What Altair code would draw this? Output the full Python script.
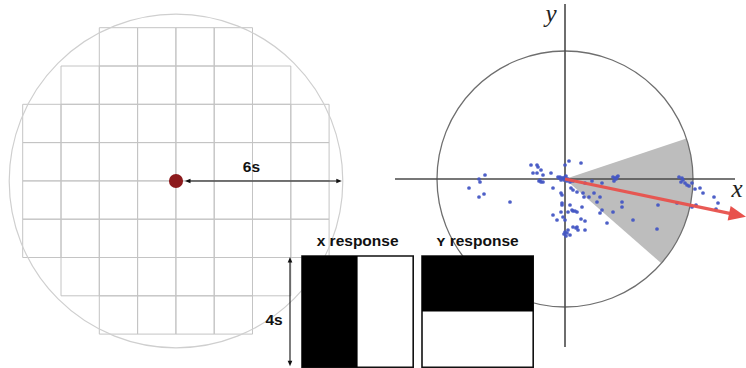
import math
import altair as alt
import pandas as pd

# ---------------- left panel: stimulus grid ----------------
S = 27.8                      # pixels per "s" unit
LEFT_C = (176.0, 181.0)       # centre of the stimulus field
FIELD_RADIUS_S = 6            # radius of the field, in s
CELL = 38.3                   # grid cell size (px)
GRID_ORIGIN = (22.7, 27.7)
# first / last column covered in each grid row
GRID_ROW_SPANS = [(2, 6), (1, 7), (0, 8), (0, 8), (0, 8), (0, 8), (1, 7), (2, 6)]

# ---------------- response maps ----------------
BOX_SIDE_S = 4
BOX_TOP = 256.0
BOX_LEFTS = [302.0, 422.0]
RESPONSE_LABELS = ["x response", "ʏ response"]
RESPONSE_SPLIT = ["vertical", "horizontal"]   # which half is black

# ---------------- right panel: response space ----------------
RIGHT_C = (565.0, 179.0)
RIGHT_R = 128.0
AXIS_HALF = 170.0
WEDGE_DEG = [18.4, -41.2]      # edges of the shaded sector
PREF_DIR_DEG = -11.8           # preferred direction
PREF_LEN = 185.0

# measured responses (x, y offsets from the origin, y up)
DOT_DX = [-34, -28, -27, -32, -28, -24, -22, -14, -26, -24, -22, -5, -2, 3, 4, 0,
          -80, -86, -85, -96, -81, -86, -55, -12, -4, -3, -3, 5, -4, -12, -8, -2,
          0, 3, 8, 12, 0, 2, 3, 5, 12, 13, 16, -7, -3, 0, 2, 5, 8, 48, 50, 52, 53,
          49, 20, 27, 37, 6, 8, 12, 18, 29, 19, 24, 35, -3, 32, 57, 7, 10, 17, 35,
          48, 57, 42, 16, 20, 68, 8, 11, 20, 92, 114, 117, 118, 120, 122, 124, 127,
          130, 135, 138, 149, 153, 151, 131, 127, 112, 93, 37,
          -6, -4, 1, 2, -1, -25, -1, 1, 51, 116]
DOT_DY = [14, 14, 12, 6, 6, 9, 4, 6, -2, -3, -3, 2, 1, 0, 18, 14,
          4, 0, -3, -9, -15, -18, -23, -9, -14, -24, -26, -26, -33, -36, -41, -38,
          -41, -33, -32, -33, -53, -54, -51, -56, -48, -51, 16, 2, 1, 2, 0, -3, -2, 2, 1, 2, 3,
          -2, -4, -2, -4, -9, -11, -13, -14, -14, -18, -18, -18, -16, -23, -23, -31, -32, -28, -34,
          -33, -28, -44, -40, -42, -41, -48, -49, -51, -50, 2, 1, -1, -4, -6, -7, -4,
          -10, -9, -14, -18, -24, -30, -26, -28, -24, -26, -31,
          1, -1, 3, -2, -1, -1, -55, -57, 0, -3]

W, H = 746, 368
xs = alt.Scale(domain=[0, W], nice=False, zero=False)
ys = alt.Scale(domain=[0, H], nice=False, zero=False, reverse=True)
X = lambda f: alt.X(f, scale=xs, axis=None)
Y = lambda f: alt.Y(f, scale=ys, axis=None)

# grid cells
cells = []
for r, (c0, c1) in enumerate(GRID_ROW_SPANS):
    for c in range(c0, c1):
        x0 = GRID_ORIGIN[0] + c * CELL
        y0 = GRID_ORIGIN[1] + r * CELL
        cells.append({"x": x0, "x2": x0 + CELL, "y": y0, "y2": y0 + CELL})
grid = alt.Chart(pd.DataFrame(cells)).mark_rect(
    filled=False, stroke="#c4c4c4", strokeWidth=1
).encode(x=X("x:Q"), x2="x2:Q", y=Y("y:Q"), y2="y2:Q")

# circles (symbol size = diameter squared)
r_left = FIELD_RADIUS_S * S
circles_df = pd.DataFrame([
    {"x": LEFT_C[0], "y": LEFT_C[1], "d2": (2 * r_left) ** 2, "c": "#cfcfcf", "w": 1.2},
    {"x": RIGHT_C[0], "y": RIGHT_C[1], "d2": (2 * RIGHT_R) ** 2, "c": "#6e6e6e", "w": 1.3},
])
circles = alt.Chart(circles_df).mark_point(shape="circle", filled=False, opacity=1).encode(
    x=X("x:Q"), y=Y("y:Q"),
    size=alt.Size("d2:Q", scale=None, legend=None),
    color=alt.Color("c:N", scale=None, legend=None),
    strokeWidth=alt.StrokeWidth("w:Q", scale=None, legend=None),
)

# shaded sector (vega angles run clockwise from 12 o'clock)
wedge_df = pd.DataFrame([{
    "x": RIGHT_C[0], "y": RIGHT_C[1],
    "t0": math.radians(90 - WEDGE_DEG[0]),
    "t1": math.radians(90 - WEDGE_DEG[1]),
    "r": RIGHT_R,
}])
wedge = alt.Chart(wedge_df).mark_arc(color="#bdbdbd", opacity=1).encode(
    x=X("x:Q"), y=Y("y:Q"),
    theta=alt.Theta("t0:Q", scale=None), theta2="t1:Q",
    radius=alt.Radius("r:Q", scale=None),
)

# coordinate axes
axes_df = pd.DataFrame([
    {"x": RIGHT_C[0] - AXIS_HALF, "x2": RIGHT_C[0] + AXIS_HALF, "y": RIGHT_C[1], "y2": RIGHT_C[1]},
    {"x": RIGHT_C[0], "x2": RIGHT_C[0], "y": RIGHT_C[1] - 175, "y2": RIGHT_C[1] + 168},
])
axes = alt.Chart(axes_df).mark_rule(color="#4a4a4a", strokeWidth=1.6).encode(
    x=X("x:Q"), x2="x2:Q", y=Y("y:Q"), y2="y2:Q"
)

# response dots
dots_df = pd.DataFrame({
    "x": [RIGHT_C[0] + dx for dx in DOT_DX],
    "y": [RIGHT_C[1] - dy for dy in DOT_DY],
})
dots = alt.Chart(dots_df).mark_circle(size=14, color="#4356c4", opacity=0.95).encode(
    x=X("x:Q"), y=Y("y:Q")
)

# preferred-direction arrow
a = math.radians(PREF_DIR_DEG)
tip = (RIGHT_C[0] + PREF_LEN * math.cos(a), RIGHT_C[1] - PREF_LEN * math.sin(a))
base = (RIGHT_C[0] + (PREF_LEN - 12) * math.cos(a), RIGHT_C[1] - (PREF_LEN - 12) * math.sin(a))
pref_line = alt.Chart(pd.DataFrame([{
    "x": RIGHT_C[0], "y": RIGHT_C[1], "x2": base[0], "y2": base[1]}])
).mark_rule(color="#e8514c", strokeWidth=3.2, opacity=0.95).encode(
    x=X("x:Q"), x2="x2:Q", y=Y("y:Q"), y2="y2:Q"
)

HEAD = "M0,0L-2,-0.85L-2,0.85Z"
heads_df = pd.DataFrame([
    {"x": tip[0], "y": tip[1], "ang": -PREF_DIR_DEG, "sz": 300, "c": "#e8514c"},
    {"x": LEFT_C[0] + 9, "y": LEFT_C[1], "ang": 180, "sz": 30, "c": "#111111"},
    {"x": LEFT_C[0] + r_left - 1, "y": LEFT_C[1], "ang": 0, "sz": 30, "c": "#111111"},
    {"x": 290, "y": BOX_TOP + 1, "ang": 270, "sz": 30, "c": "#111111"},
    {"x": 290, "y": BOX_TOP + BOX_SIDE_S * S - 1, "ang": 90, "sz": 30, "c": "#111111"},
])
heads = alt.Chart(heads_df).mark_point(shape=HEAD, filled=True, opacity=1, strokeWidth=0).encode(
    x=X("x:Q"), y=Y("y:Q"),
    angle=alt.Angle("ang:Q", scale=None),
    size=alt.Size("sz:Q", scale=None, legend=None),
    color=alt.Color("c:N", scale=None, legend=None),
)

# dimension lines (6s radius, 4s box height)
dims_df = pd.DataFrame([
    {"x": LEFT_C[0] + 12, "x2": LEFT_C[0] + r_left - 4, "y": LEFT_C[1], "y2": LEFT_C[1]},
    {"x": 290, "x2": 290, "y": BOX_TOP + 4, "y2": BOX_TOP + BOX_SIDE_S * S - 4},
])
dims = alt.Chart(dims_df).mark_rule(color="#111111", strokeWidth=1.1).encode(
    x=X("x:Q"), x2="x2:Q", y=Y("y:Q"), y2="y2:Q"
)

# centre of the stimulus field
centre = alt.Chart(pd.DataFrame([{"x": LEFT_C[0], "y": LEFT_C[1]}])).mark_circle(
    size=200, color="#8c1a1c", opacity=1
).encode(x=X("x:Q"), y=Y("y:Q"))

# response maps: white frame, black half
side = BOX_SIDE_S * S
frames, fills = [], []
for left, split in zip(BOX_LEFTS, RESPONSE_SPLIT):
    frames.append({"x": left, "x2": left + side, "y": BOX_TOP, "y2": BOX_TOP + side})
    if split == "vertical":
        fills.append({"x": left, "x2": left + side / 2, "y": BOX_TOP, "y2": BOX_TOP + side})
    else:
        fills.append({"x": left, "x2": left + side, "y": BOX_TOP, "y2": BOX_TOP + side / 2})
frames_ch = alt.Chart(pd.DataFrame(frames)).mark_rect(
    fill="white", stroke="#111111", strokeWidth=1.6
).encode(x=X("x:Q"), x2="x2:Q", y=Y("y:Q"), y2="y2:Q")
fills_ch = alt.Chart(pd.DataFrame(fills)).mark_rect(color="#000000").encode(
    x=X("x:Q"), x2="x2:Q", y=Y("y:Q"), y2="y2:Q"
)

# labels
labels_df = pd.DataFrame([
    {"x": LEFT_C[0] + r_left / 2 - 8, "y": LEFT_C[1] - 9, "t": "6s"},
    {"x": 274, "y": BOX_TOP + side / 2 + 13, "t": "4s"},
    {"x": BOX_LEFTS[0] + side / 2, "y": BOX_TOP - 10, "t": RESPONSE_LABELS[0]},
    {"x": BOX_LEFTS[1] + side / 2, "y": BOX_TOP - 10, "t": RESPONSE_LABELS[1]},
])
labels = alt.Chart(labels_df).mark_text(
    font="Liberation Sans", fontWeight="bold", fontSize=15.5, color="#111111",
    align="center", baseline="alphabetic"
).encode(x=X("x:Q"), y=Y("y:Q"), text="t:N")

axis_names_df = pd.DataFrame([
    {"x": RIGHT_C[0] - 14, "y": 22, "t": "y"},
    {"x": RIGHT_C[0] + AXIS_HALF + 2, "y": RIGHT_C[1] + 18, "t": "x"},
])
axis_names = alt.Chart(axis_names_df).mark_text(
    font="Liberation Serif", fontStyle="italic", fontSize=25, color="#222222",
    align="center", baseline="alphabetic"
).encode(x=X("x:Q"), y=Y("y:Q"), text="t:N")

chart = alt.layer(
    grid, wedge, circles, axes, dots, pref_line, centre, dims,
    frames_ch, fills_ch, heads, labels, axis_names
).properties(
    width=W, height=H, padding=0, autosize=alt.AutoSizeParams(type="none"),
    background="white"
).configure_view(strokeWidth=0)

chart.save("out.html", embed_options={"renderer": "svg", "actions": False})
